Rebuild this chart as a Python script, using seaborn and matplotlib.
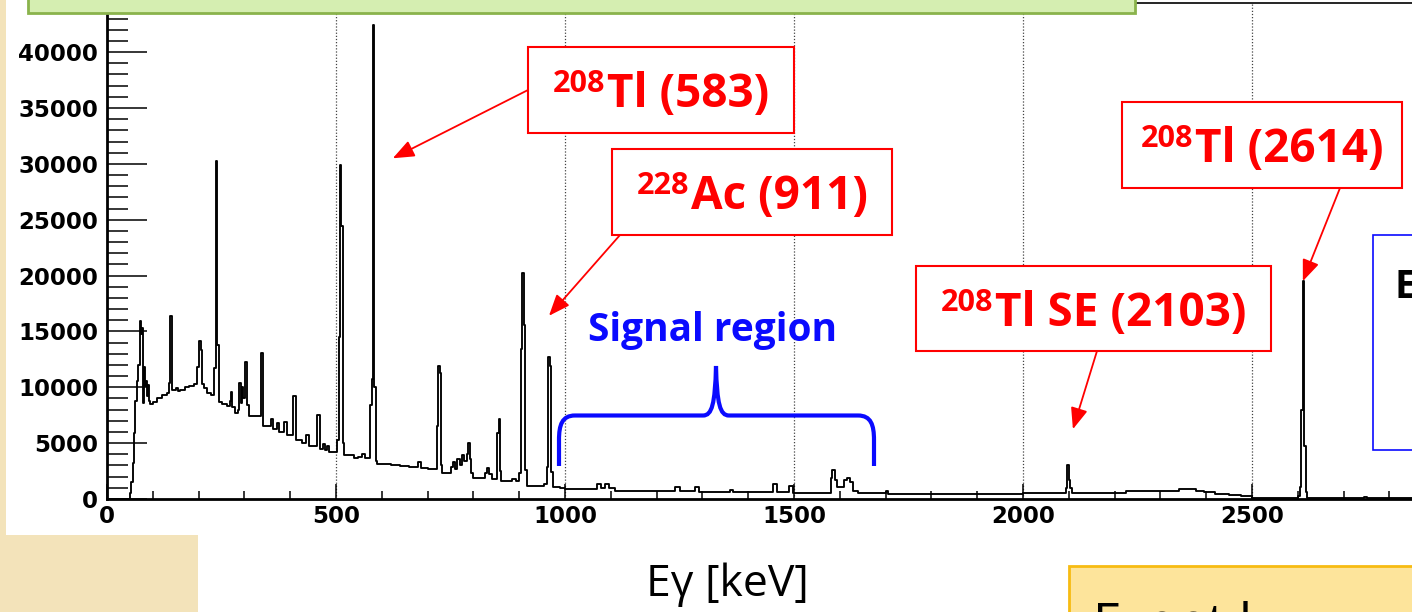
import numpy as np
import pandas as pd
import seaborn as sns
import matplotlib
matplotlib.use("Agg")
import matplotlib.pyplot as plt
from matplotlib import patches, transforms
from matplotlib.path import Path
from matplotlib.ticker import MultipleLocator

# ---------------------------------------------------------------------------
# Gamma-ray spectrum as a histogram with variable-width bins.
# *_edges are the left edges of the bins (keV), *_counts the bin contents.
# ---------------------------------------------------------------------------
low_edges = [0, 50, 53, 56, 59, 62, 65, 68, 71, 73, 75, 77, 79, 81, 83, 85, 87,
             89, 91, 94, 100, 110, 120, 130, 136, 138, 141, 143, 150, 156, 160,
             170, 180, 190, 197, 201, 205, 208, 212, 218, 226, 234, 237, 241]
low_counts = [0, 500, 1500, 3200, 5900, 8800, 10600, 12000, 14100, 15900, 14800,
              15300, 8600, 11800, 10100, 10600, 9200, 10200, 8800, 8500, 8700,
              9000, 9300, 9500, 10400, 16400, 10800, 9800, 9900, 9700, 9800,
              10000, 10100, 10300, 11800, 14100, 13300, 10300, 9900, 9500, 9300,
              11700, 30300, 13800]

mid_edges = [244, 250, 262, 268, 271, 274, 280, 285, 289, 292, 295, 298, 302,
             306, 310, 336, 341, 357, 362, 371, 376, 387, 392, 407, 412, 425,
             435, 441, 458, 464, 472, 476, 481, 485, 502, 506, 509, 512, 515,
             518, 540, 548, 556, 563, 574, 578, 581, 584, 587]
mid_counts = [8700, 8500, 8300, 8800, 9600, 8200, 7700, 8000, 10400, 8600, 10000,
              9000, 12300, 8400, 7400, 13050, 6500, 7200, 6300, 6800, 6000, 6900,
              5700, 9200, 5300, 5000, 5700, 4700, 7500, 4500, 4900, 4400, 4700,
              4200, 5300, 14500, 29900, 24400, 5000, 3900, 3700, 3800, 4000, 3700,
              8400, 10700, 42400, 10000, 3400]

ac_edges = [590, 620, 640, 660, 680, 686, 700, 720, 723, 726, 729, 732, 750,
            755, 760, 765, 770, 775, 780, 785, 789, 792, 795, 800, 826, 830,
            834, 840, 852, 855, 858, 861, 885, 892, 900, 904, 907, 910, 913,
            916, 955, 960, 963, 967, 970, 973, 990]
ac_counts = [3100, 3000, 2950, 2900, 3300, 2800, 2650, 6500, 11900, 11300, 3000,
             2300, 2900, 3300, 2700, 3600, 3000, 3900, 3400, 4000, 5000, 3600,
             2300, 1900, 2300, 2800, 2200, 1800, 5900, 7200, 2500, 1650, 1800,
             1600, 2300, 13400, 20200, 15600, 2600, 1200, 1350, 2900, 12750,
             11900, 2400, 1050, 1000]

signal_edges = [1000, 1050, 1070, 1078, 1088, 1096, 1110, 1240, 1250, 1283,
                1292, 1360, 1366, 1455, 1463, 1490, 1497, 1580, 1584, 1590,
                1594, 1610, 1616, 1622, 1628, 1640, 1700, 1706, 1800, 1900]
signal_counts = [900, 870, 1350, 950, 1300, 1000, 760, 1100, 760, 1050, 620,
                 780, 600, 1350, 620, 1170, 520, 1900, 2600, 1700, 1100, 1700,
                 1900, 1500, 700, 520, 700, 480, 470, 490]

high_edges = [2000, 2094, 2097, 2100, 2103, 2107, 2225, 2295, 2340, 2378, 2395,
              2420, 2450, 2475, 2500, 2600, 2605, 2608, 2611, 2614, 2617, 2620,
              2745, 2752]
high_counts = [510, 950, 3050, 1700, 950, 570, 690, 750, 870, 720, 600, 480,
               380, 250, 120, 300, 1100, 8000, 19500, 4700, 600, 60, 200, 50]
spectrum_end = 3000

# axis ticks
x_ticks = [0, 500, 1000, 1500, 2000, 2500]
y_ticks = [0, 5000, 10000, 15000, 20000, 25000, 30000, 35000, 40000]

# peak annotations: isotope mass number, label text, arrow tip (keV, counts)
peak_mass = ["208", "228", "208", "208"]
peak_text = ["Tl (583)", "Ac (911)", "Tl (2614)", "Tl SE (2103)"]
peak_tip_kev = [624, 965, 2611, 2109]
peak_tip_counts = [30500, 16400, 19500, 6250]

# ---------------------------------------------------------------------------
bin_edges = [float(v) for v in low_edges + mid_edges + ac_edges + signal_edges
             + high_edges + [spectrum_end]]
bin_counts = [float(v) for v in low_counts + mid_counts + ac_counts
              + signal_counts + high_counts]
spectrum = pd.DataFrame({
    "energy": [(a + b) / 2 for a, b in zip(bin_edges[:-1], bin_edges[1:])],
    "counts": bin_counts,
})

sns.set_style("white")
plt.rcParams["font.family"] = ["Open Sans", "DejaVu Sans"]

W, H = 1412, 612
fig = plt.figure(figsize=(W / 100, H / 100), dpi=100)
fig.patch.set_facecolor("white")
# pixel coordinates measured from the top-left corner of the slide
px = transforms.Affine2D().scale(1 / W, -1 / H).translate(0, 1) + fig.transFigure

RED = "#ff0000"
BLUE = "#0a0aff"
BEIGE = "#f3e3ba"

# slide decoration
fig.add_artist(patches.Rectangle((0, -5), 5.5, 540, transform=px,
                                 facecolor=BEIGE, edgecolor="none", zorder=-1))
fig.add_artist(patches.Rectangle((0, 535), 198, 90, transform=px,
                                 facecolor=BEIGE, edgecolor="none", zorder=-1))

# spectrum axes
ax = fig.add_axes([107 / W, 1 - 499 / H, 1374 / W, 496 / H])
sns.histplot(data=spectrum, x="energy", weights="counts", bins=bin_edges,
             element="step", fill=False, color="black", linewidth=1.35, ax=ax)
ax.set_xlim(0, 3000)
ax.set_ylim(0, 44400)
ax.set_xlabel("")
ax.set_ylabel("")

for side in ["left", "bottom"]:
    ax.spines[side].set_linewidth(2.0)
for side in ["top", "right"]:
    ax.spines[side].set_linewidth(1.2)
    ax.spines[side].set_visible(True)
for s in ax.spines.values():
    s.set_color("black")

ax.set_xticks(x_ticks, labels=[str(v) for v in x_ticks], fontweight="bold",
              fontfamily="DejaVu Sans", fontsize=16.5)
ax.set_yticks(y_ticks, labels=[str(v) for v in y_ticks], fontweight="bold",
              fontfamily="DejaVu Sans", fontsize=16.5)
ax.xaxis.set_minor_locator(MultipleLocator(100))
ax.yaxis.set_minor_locator(MultipleLocator(1000))
ax.tick_params(which="both", left=True, bottom=True, top=False, right=False)
ax.tick_params(axis="y", which="major", direction="in", length=29, width=1.1,
               pad=6.5, colors="black")
ax.tick_params(axis="y", which="minor", direction="in", length=15, width=1.1,
               colors="black")
ax.tick_params(axis="x", which="major", direction="in", length=11, width=1.1,
               pad=4.5, colors="black")
ax.tick_params(axis="x", which="minor", direction="in", length=6, width=1.1,
               colors="black")
ax.grid(axis="x", which="major", linestyle=(0, (1, 1.5)), linewidth=0.9,
        color="#444444")
ax.grid(axis="y", visible=False)
ax.set_axisbelow(True)

# title banner (top), info boxes (right, bottom right)
fig.add_artist(patches.Rectangle((28, -20), 1107, 32.5, transform=px,
                                 facecolor="#d5eeb1", edgecolor="#8ab34c",
                                 linewidth=2.0, zorder=2))
fig.add_artist(patches.Rectangle((1373, 235), 120, 215, transform=px,
                                 facecolor="white", edgecolor=BLUE,
                                 linewidth=1.2, zorder=2))
fig.text(1395, 298, "E", transform=px, fontsize=28, fontweight="bold",
         color="black", ha="left", va="baseline", zorder=3)
fig.add_artist(patches.Rectangle((1069, 566), 400, 100, transform=px,
                                 facecolor="#fde49b", edgecolor="#f7bb12",
                                 linewidth=2.0, zorder=2))
fig.text(1093, 640, "Event l", transform=px, fontsize=37, color="black",
         ha="left", va="baseline", zorder=3)

# axis title on the slide
fig.text(727, 596, "Eγ [keV]", transform=px, fontsize=32, color="black",
         ha="center", va="baseline")

# signal region brace
brace_verts = [(559, 466), (559, 440),
               (559, 425), (562, 415.5), (575, 415.5),
               (703, 415.5),
               (712, 415.5), (715, 404), (716, 366),
               (717, 404), (720, 415.5), (729, 415.5),
               (858, 415.5),
               (871, 415.5), (874, 425), (874, 440),
               (874, 466)]
brace_codes = [Path.MOVETO, Path.LINETO,
               Path.CURVE4, Path.CURVE4, Path.CURVE4,
               Path.LINETO,
               Path.CURVE4, Path.CURVE4, Path.CURVE4,
               Path.CURVE4, Path.CURVE4, Path.CURVE4,
               Path.LINETO,
               Path.CURVE4, Path.CURVE4, Path.CURVE4,
               Path.LINETO]
fig.add_artist(patches.PathPatch(Path(brace_verts, brace_codes), transform=px,
                                 facecolor="none", edgecolor=BLUE,
                                 linewidth=3.0, capstyle="butt", zorder=2))
fig.text(713, 341.5, "Signal region", transform=px, fontsize=28,
         fontweight="bold", color=BLUE, ha="center", va="baseline", zorder=3)

# peak labels: boxes (pixel layout) with arrows pointing into the spectrum
boxes = [(528, 47, 794, 133), (612, 149, 892, 235),
         (1122, 102, 1402, 188), (916, 266, 1271, 351)]
arrow_starts = [(528, 90), (620, 235), (1340, 188), (1097, 351)]

label_pairs = []
for (x0, y0, x1, y1), mass, text, start, tx, ty in zip(
        boxes, peak_mass, peak_text, arrow_starts, peak_tip_kev, peak_tip_counts):
    fig.add_artist(patches.Rectangle((x0, y0), x1 - x0, y1 - y0, transform=px,
                                     facecolor="white", edgecolor=RED,
                                     linewidth=1.5, zorder=2))
    t_sup = fig.text(0, 0, mass, transform=px, fontsize=22, fontweight="bold",
                     color=RED, ha="left", va="baseline", zorder=3)
    t_main = fig.text(0, 0, text, transform=px, fontsize=33, fontweight="bold",
                      color=RED, ha="left", va="baseline", zorder=3)
    label_pairs.append((t_sup, t_main, (x0 + x1) / 2, y0))
    ax.annotate("", xy=(tx, ty), xycoords="data", xytext=start, textcoords=px,
                arrowprops=dict(arrowstyle="-|>,head_length=0.65,head_width=0.26",
                                mutation_scale=20, color=RED, lw=1.3,
                                shrinkA=0, shrinkB=0))

fig.canvas.draw()
renderer = fig.canvas.get_renderer()
for t_sup, t_main, cx, y0 in label_pairs:
    w_sup = t_sup.get_window_extent(renderer).width
    w_main = t_main.get_window_extent(renderer).width
    left = cx - (w_sup + 2 + w_main) / 2
    t_sup.set_position((left, y0 + 45))
    t_main.set_position((left + w_sup + 2, y0 + 60))

fig.savefig("out.png", dpi=100)
